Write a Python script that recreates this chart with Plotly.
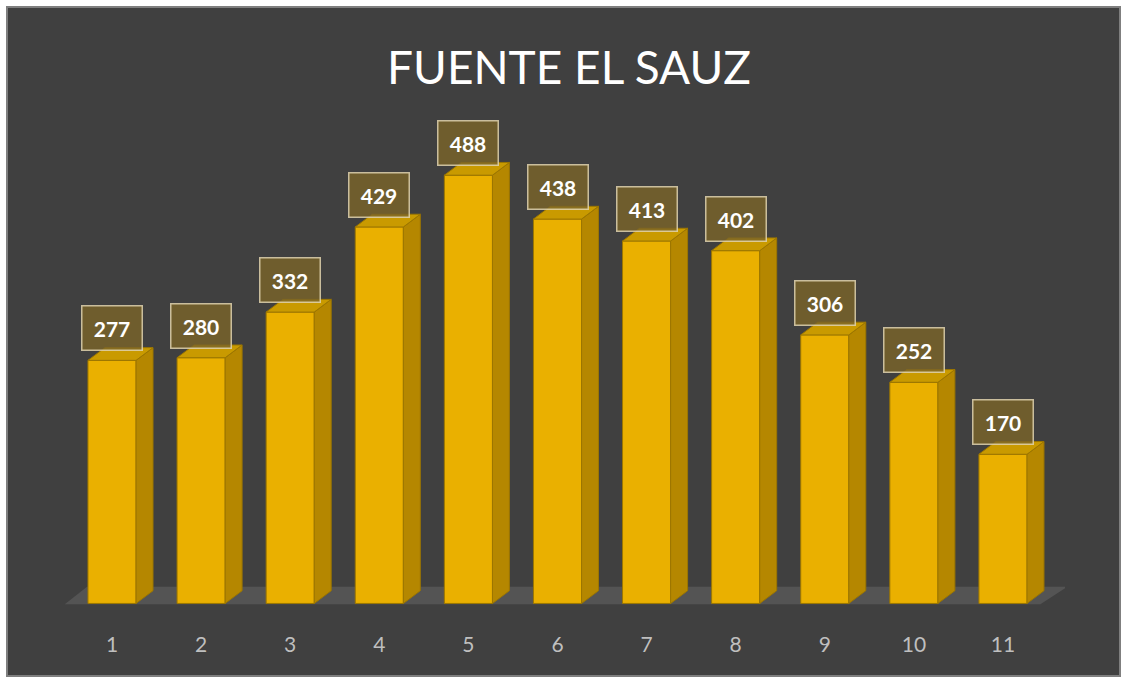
import plotly.graph_objects as go

# ---- data ----
categories = [1, 2, 3, 4, 5, 6, 7, 8, 9, 10, 11]
values = [277, 280, 332, 429, 488, 438, 413, 402, 306, 252, 170]
tick_labels = [str(c) for c in categories]
title_text = "FUENTE EL SAUZ"

# ---- style / geometry ----
W, H = 1126, 682
ML, MR, MT, MB = 50, 61, 112, 61
X_RANGE = [0.304, 11.696]
Y_RANGE = [-20, 560]
BAR_W = 0.54       # front face width (category units)
DX = 0.19          # depth offset in x (category units)
DY = 14.5          # depth offset in y (value units)

FRONT = "#EAB000"
SIDE = "#B58700"
TOP = "#C99A00"
EDGE = "#9C7600"
BG = "#404040"
FONT = "Lato, 'Open Sans', sans-serif"

fig = go.Figure()

# floor (decoration, drawn below the bars)
fx0 = categories[0] - 0.53
fx1 = categories[-1] + 0.42
floor_pts = [(fx0, -1), (fx1, -1), (fx1 + 0.30, 19), (fx0 + 0.25, 19)]
floor_path = "M " + " L ".join(f"{x},{y}" for x, y in floor_pts) + " Z"
fig.add_shape(type="path", path=floor_path, xref="x", yref="y", layer="below",
              fillcolor="#545454", line=dict(width=0))

# front faces
fig.add_trace(go.Bar(x=categories, y=values, width=BAR_W,
                     marker=dict(color=FRONT, line=dict(color=EDGE, width=1)),
                     showlegend=False, hoverinfo="x+y"))

# side faces and top faces (derived from values)
sx, sy, tx, ty = [], [], [], []
for c, v in zip(categories, values):
    r = c + BAR_W / 2
    l = c - BAR_W / 2
    sx += [r, r + DX, r + DX, r, r, None]
    sy += [0, DY, v + DY, v, 0, None]
    tx += [l, r, r + DX, l + DX, l, None]
    ty += [v, v, v + DY, v + DY, v, None]

fig.add_trace(go.Scatter(x=sx, y=sy, fill="toself", mode="lines",
                         line=dict(width=1, color=EDGE), fillcolor=SIDE,
                         hoverinfo="skip", showlegend=False))
fig.add_trace(go.Scatter(x=tx, y=ty, fill="toself", mode="lines",
                         line=dict(width=1, color=EDGE), fillcolor=TOP,
                         hoverinfo="skip", showlegend=False))

# value labels
for c, v in zip(categories, values):
    fig.add_annotation(x=c, y=v, xref="x", yref="y", text=f"<b>{v}</b>",
                       showarrow=False, yanchor="bottom", yshift=9,
                       font=dict(family=FONT, size=21, color="#ffffff"),
                       bgcolor="rgba(122,100,40,0.80)", bordercolor="rgba(225,212,175,0.85)",
                       borderwidth=1.5, borderpad=7, width=45, height=29)

# chart frame in paper coords
pw = W - ML - MR
ph = H - MT - MB
def px_to_paper_x(px):
    return (px - ML) / pw
def px_to_paper_y(py):
    return (H - MB - py) / ph

fig.add_shape(type="rect", xref="paper", yref="paper", layer="below",
              x0=px_to_paper_x(7), x1=px_to_paper_x(1120),
              y0=px_to_paper_y(676), y1=px_to_paper_y(7),
              fillcolor=BG, line=dict(color="#7f7f7f", width=2))

fig.update_layout(
    width=W, height=H,
    margin=dict(l=ML, r=MR, t=MT, b=MB),
    paper_bgcolor="#ffffff",
    plot_bgcolor="rgba(0,0,0,0)",
    title=dict(text=title_text, x=569 / W, y=1 - 68 / H, xref="container", yref="container",
               xanchor="center", yanchor="middle",
               font=dict(family=FONT, size=46, color="#ffffff")),
    xaxis=dict(range=X_RANGE, tickmode="array", tickvals=categories, ticktext=tick_labels,
               showgrid=False, zeroline=False, showline=False,
               ticks="outside", ticklen=5, tickcolor="rgba(0,0,0,0)",
               tickfont=dict(family=FONT, size=21, color="#bfbfbf"),
               fixedrange=True),
    yaxis=dict(range=Y_RANGE, visible=False, showgrid=False, zeroline=False, fixedrange=True),
)

fig.write_html("out.html",
               config={"displayModeBar": False},
               post_script="document.body.style.margin='0';document.body.style.overflow='hidden';")
